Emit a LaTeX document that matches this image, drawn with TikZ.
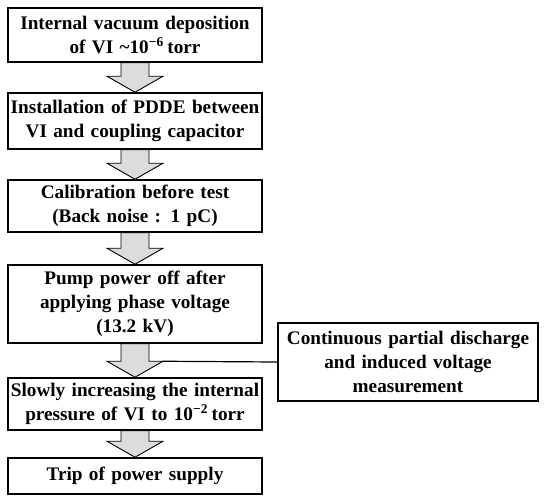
\documentclass[tikz,border=0pt]{standalone}
\usepackage{fontspec}
\setmainfont{Liberation Serif}
\usetikzlibrary{calc}
\definecolor{ArrowGray}{HTML}{DCDCDC}
\newcommand{\px}{0.5pt}
\tikzset{
  stepbox/.style={draw=black, line width=0.75pt, fill=white,
                  text width=250*\px, inner xsep=2*\px, inner ysep=0pt,
                  align=center, font=\bfseries\fontsize{9.6}{12}\selectfont},
  sidebox/.style={stepbox, text width=256*\px},
  flowarrow/.style={draw=black, line width=0.45pt, fill=ArrowGray},
  link/.style={draw=black, line width=0.6pt},
}
\newcommand{\headlen}{16}
\newcommand{\shaft}{14}
\newcommand{\headw}{28}
% block arrow from the bottom of one box to the top of the next
\newcommand{\blockarrow}[2]{%
  \draw[flowarrow]
    ($(#1.south)+(-\shaft,0)$) -- ($(#2.north)+(-\shaft,-\headlen)$)
    -- ($(#2.north)+(-\headw,-\headlen)$) -- (#2.north)
    -- ($(#2.north)+(\headw,-\headlen)$) -- ($(#2.north)+(\shaft,-\headlen)$)
    -- ($(#1.south)+(\shaft,0)$) -- cycle;%
}

\begin{document}
\begin{tikzpicture}[x=0.5pt, y=-0.5pt]
  \useasboundingbox (0,0) rectangle (550,503);

  % --- steps ---------------------------------------------------------------
  \node[stepbox, minimum height=54*\px] (deposit) at (135,35)
    {Internal vacuum deposition\\of VI \textasciitilde10\textsuperscript{−6}\,torr};
  \node[stepbox, minimum height=56*\px] (install) at (135,121)
    {Installation of PDDE between\\VI and coupling capacitor};
  \node[stepbox, minimum height=52*\px] (calib) at (135,206)
    {Calibration before test\\(Back noise : 1 pC)};
  \node[stepbox, minimum height=78*\px] (pumpoff) at (135,304)
    {Pump power off after\\applying phase voltage\\(13.2 kV)};
  \node[stepbox, minimum height=52*\px] (pressure) at (135,404)
    {Slowly increasing the internal\\pressure of VI to 10\textsuperscript{−2}\,torr};
  \node[stepbox, minimum height=36*\px] (trip) at (135,476)
    {Trip of power supply};

  % --- measurement running alongside -------------------------------------
  \node[sidebox, minimum height=78*\px] (measure) at (408,362)
    {Continuous partial discharge\\and induced voltage\\measurement};

  % --- arrows --------------------------------------------------------------
  \blockarrow{deposit}{install}
  \blockarrow{install}{calib}
  \blockarrow{calib}{pumpoff}
  \blockarrow{pumpoff}{pressure}
  \blockarrow{pressure}{trip}

  \coordinate (headright) at ($(pressure.north)+(\headw,-\headlen)$);
  \draw[link] (measure.west) -- (headright);

\end{tikzpicture}
\end{document}
